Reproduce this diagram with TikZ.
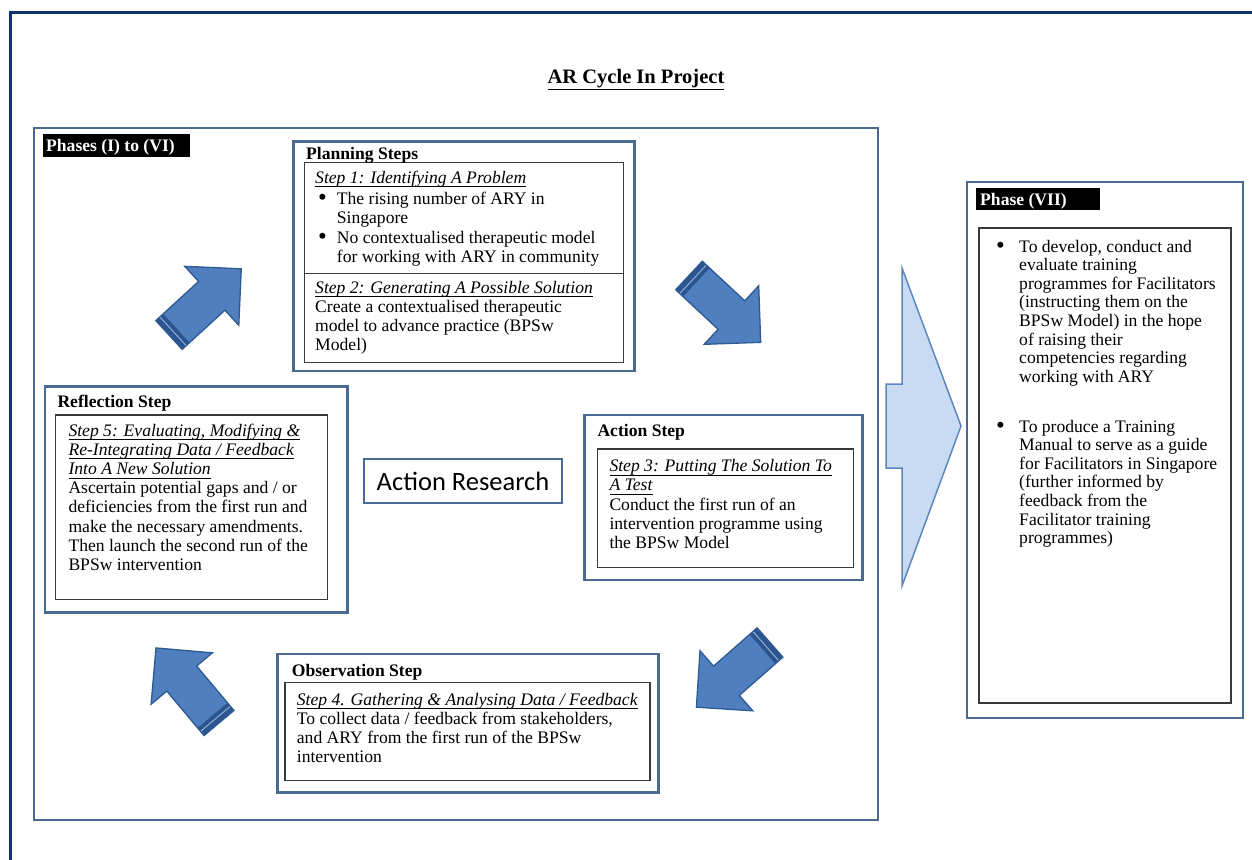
\documentclass[tikz,border=0pt]{standalone}
\usepackage{fontspec}
\setmainfont{Liberation Serif}
\newfontfamily\carl{Carlito}
\definecolor{navy}{HTML}{13306F}
\definecolor{stepblue}{HTML}{4B6A92}
\definecolor{innergray}{HTML}{3A3A3A}
\definecolor{arrfill}{HTML}{4F7FBE}
\definecolor{arrline}{HTML}{2E5A91}
\definecolor{arrband}{HTML}{2C5590}
\definecolor{arrlight}{HTML}{8DB0DA}
\definecolor{chevfill}{HTML}{C9DBF2}
\definecolor{chevline}{HTML}{5B86BF}
\newcommand\bodyfont{\fontsize{17.6}{19.2}\selectfont}
\newcommand\phfont{\fontsize{17.6}{18.6}\selectfont}
\newcommand\stepul[1]{\underline{\smash{\textit{#1}}\vrule width 0pt depth 2pt}}
\newcommand\bigdot{\raisebox{-1.2pt}{\fontsize{25}{25}\selectfont\textbullet}}
\newcommand\bitem{\makebox[18.7pt][l]{\bigdot}}
\newcommand\bind{\hspace*{18.7pt}}
\newcommand\pitem{\makebox[23pt][l]{\bigdot}}
\newcommand\pind{\hspace*{23pt}}
\newcommand\lines[1]{\begin{tabular}[t]{@{}l@{}}#1\end{tabular}}
\newcommand\bluearrow[2]{%
  \begin{scope}[shift={#1}, rotate=#2]
    \draw[fill=arrfill, draw=arrline, line width=1.3pt, line join=miter]
      (0,-19.5) -- (58,-19.5) -- (58,-40) -- (98,0) -- (58,40) -- (58,19.5) -- (0,19.5) -- cycle;
    \fill[arrband] (0.6,-18.9) rectangle (10,18.9);
    \draw[arrlight, line width=1pt] (5.5,-18.9) -- (5.5,18.9);
  \end{scope}}
\begin{document}
\begin{tikzpicture}[x=1pt,y=-1pt,
  txt/.style={anchor=base west, inner sep=0pt, font=\bodyfont},
  ptxt/.style={anchor=base west, inner sep=0pt, font=\phfont},
  hd/.style={anchor=base west, inner sep=0pt, font=\bodyfont\bfseries},
  stepbox/.style={draw=stepblue, line width=2.5pt},
  innerbox/.style={draw=innergray, line width=1.1pt}]
\useasboundingbox (0,0) rectangle (1252,859);
\clip (0,0) rectangle (1252,859);
\fill[white] (0,0) rectangle (1252,859);
% outer frame
\draw[navy, line width=3pt] (10,13) rectangle (1275,885);
% title
\node[anchor=base, inner sep=0pt, font=\fontsize{20.5}{24}\selectfont\bfseries] (title) at (636,83) {\underline{AR Cycle In Project}};
% big box phases I-VI
\draw[stepblue, line width=2.5pt] (34,128) rectangle (878,820);
\fill[black] (43,134) rectangle (190,157);
\node[hd, text=white] (phases) at (46,151) {Phases (I) to (VI)};

% Planning
\draw[stepbox] (293.3,141.7) rectangle (634.3,371);
\draw[innerbox] (304.3,162.3) rectangle (623.3,362.3);
\draw[innerbox] (304.3,273.3) -- (623.3,273.3);
\node[hd] (plan) at (306,159) {Planning Steps};
\node[txt] (p1) at (315,183) {\stepul{Step 1: Identifying A Problem}};
\node[txt] (p1b) at (318,204) {\lines{\bitem The rising number of ARY in\\\bind Singapore\\[1pt]\bitem No contextualised therapeutic model\\\bind for working with ARY in community}};
\node[txt] (p2) at (315,293) {\lines{\stepul{Step 2: Generating A Possible Solution}\\Create a contextualised therapeutic\\model to advance practice (BPSw\\Model)}};

% Reflection
\draw[stepbox] (45,386.7) rectangle (347.7,612.3);
\draw[innerbox] (55.7,415) rectangle (327.3,599.3);
\node[hd] (refl) at (57.3,407) {Reflection Step};
\node[txt] (r1) at (68.3,436) {\lines{\stepul{Step 5: Evaluating, Modifying \&}\\\stepul{Re-Integrating Data / Feedback}\\\stepul{Into A New Solution}\\Ascertain potential gaps and / or\\deficiencies from the first run and\\make the necessary amendments.\\Then launch the second run of the\\BPSw intervention}};

% Action
\draw[stepbox] (584.3,415) rectangle (862.7,580);
\draw[innerbox] (597.7,449) rectangle (853.3,567.3);
\node[hd] (act) at (597.3,436.7) {Action Step};
\node[txt] (a1) at (609.3,471.7) {\lines{\stepul{Step 3: Putting The Solution To}\\\stepul{A Test}\\Conduct the first run of an\\intervention programme using\\the BPSw Model}};

% Observation
\draw[stepbox] (277.3,654) rectangle (658.3,792.7);
\draw[innerbox] (285,682.3) rectangle (650,780.7);
\node[hd] (obs) at (291.7,676.7) {Observation Step};
\node[txt] (o1) at (296.7,705) {\lines{\stepul{Step 4. Gathering \& Analysing Data / Feedback}\\To collect data / feedback from stakeholders,\\and ARY from the first run of the BPSw\\intervention}};

% Action Research centre
\node[draw=stepblue, line width=2pt, minimum width=198pt, minimum height=44pt, inner sep=0pt, font=\carl\fontsize{26.5}{30}\selectfont] (ar) at (463,481) {Action Research};

% cycle arrows
\bluearrow{(169,335)}{42.5}
\bluearrow{(689,275.5)}{-43}
\bluearrow{(770,642.5)}{-138.7}
\bluearrow{(219,723)}{130}

% chevron
\draw[fill=chevfill, draw=chevline, line width=1.5pt, line join=miter]
  (886,384) -- (902,384) -- (902,268) -- (961,426) -- (902,586) -- (902,468) -- (886,468) -- cycle;

% Phase VII
\draw[stepbox] (967,182) rectangle (1243,718);
\draw[innerbox] (979,228) rectangle (1231,703);
\fill[black] (976,188) rectangle (1100,210);
\node[hd, text=white] (ph7) at (980,205) {Phase (VII)};
\node[ptxt] (v1) at (996,252) {\lines{\pitem To develop, conduct and\\\pind evaluate training\\\pind programmes for Facilitators\\\pind (instructing them on the\\\pind BPSw Model) in the hope\\\pind of raising their\\\pind competencies regarding\\\pind working with ARY}};
\node[ptxt] (v2) at (996,432) {\lines{\pitem To produce a Training\\\pind Manual to serve as a guide\\\pind for Facilitators in Singapore\\\pind (further informed by\\\pind feedback from the\\\pind Facilitator training\\\pind programmes)}};
\end{tikzpicture}
\end{document}
